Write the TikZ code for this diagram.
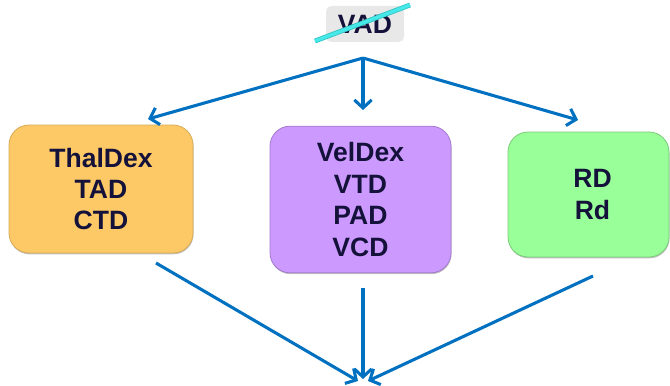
\documentclass[tikz,border=0pt]{standalone}
\usepackage{fontspec}
\setmainfont{Liberation Sans}
\usetikzlibrary{arrows.meta,shadows}
\definecolor{ink}{RGB}{20,18,58}
\definecolor{flow}{RGB}{0,112,192}
\definecolor{orangebox}{RGB}{253,201,102}
\definecolor{purplebox}{RGB}{204,153,255}
\definecolor{greenbox}{RGB}{153,255,153}
\definecolor{tagbg}{RGB}{232,232,232}
\definecolor{strike}{RGB}{70,232,232}
\tikzset{
  card/.style={rounded corners=15pt, align=center, text=ink,
    font=\fontsize{19.9}{23.6}\selectfont\bfseries,
    inner sep=0pt,
    drop shadow={shadow xshift=0.4pt, shadow yshift=-1pt, opacity=0.45, fill=black!55}},
  tag/.style={rounded corners=4pt, fill=tagbg, text=ink,
    font=\fontsize{19.9}{23.6}\selectfont\bfseries,
    minimum width=58.5pt, minimum height=27pt, inner sep=0pt},
  flowarrow/.style={draw=flow, line width=2.3pt,
    -{Straight Barb[length=6pt,width=13pt,line width=2.3pt]}},
}
\begin{document}
\begin{tikzpicture}[x=0.75pt,y=-0.75pt]
  \useasboundingbox (0,0) rectangle (670,385);

  % heading tag, struck through
  \node[tag] (vad) at (365,24) {VAD};
  \coordinate (strikeA) at (315,41);
  \coordinate (strikeB) at (410,5);
  \draw[line width=3.6pt, draw=strike!65!teal] (strikeA) -- (strikeB);
  \draw[line width=2.4pt, draw=strike] (strikeA) -- (strikeB);

  % the three groups
  \node[card, fill=orangebox, draw=orangebox!85!black, line width=0.6pt,
        minimum width=138pt, minimum height=96pt] (thal) at (101,189)
        {ThalDex\\TAD\\CTD};
  \node[card, fill=purplebox, draw=purplebox!80!black, line width=0.6pt,
        minimum width=135.75pt, minimum height=110pt] (vel) at (360.5,199.5)
        {VelDex\\VTD\\PAD\\VCD};
  \node[card, fill=greenbox, draw=greenbox!80!black, line width=0.6pt,
        minimum width=120.75pt, minimum height=93.75pt] (rd) at (588.5,194.5)
        {\hspace*{6pt}RD\\\hspace*{6pt}Rd};

  % fan-out from the heading
  \coordinate (apex) at (363,58);
  \coordinate (toThal) at (148,119);
  \coordinate (toVel) at (363,110);
  \coordinate (toRd) at (578,120);
  \draw[flowarrow] (apex) -- (toThal);
  \draw[flowarrow] (apex) -- (toVel);
  \draw[flowarrow] (apex) -- (toRd);

  % fan-in below the groups
  \coordinate (fromThal) at (156,263);
  \coordinate (fromVel) at (363,288);
  \coordinate (fromRd) at (593,276);
  \coordinate (sinkL) at (358,381);
  \coordinate (sinkC) at (363,379);
  \coordinate (sinkR) at (368,381);
  \draw[flowarrow] (fromThal) -- (sinkL);
  \draw[flowarrow] (fromVel) -- (sinkC);
  \draw[flowarrow] (fromRd) -- (sinkR);
\end{tikzpicture}
\end{document}
